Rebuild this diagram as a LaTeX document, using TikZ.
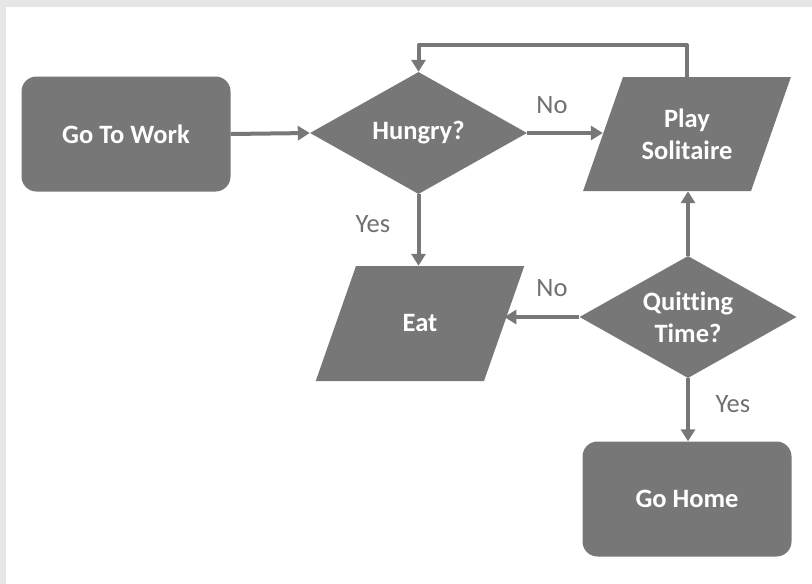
\documentclass[tikz,border=0pt]{standalone}
\usepackage{fontspec}
\setmainfont{Carlito}[Ligatures=NoCommon]
\usetikzlibrary{shapes.geometric,arrows.meta}
\definecolor{shapegray}{HTML}{777777}
\definecolor{labelgray}{HTML}{707070}
\definecolor{framegray}{HTML}{E6E6E6}
\newcommand{\iotext}[2]{\parbox[c][#1][c]{128pt}{\centering #2}}
\tikzset{
  nodefont/.style={font=\bfseries\fontsize{26.5}{32}\selectfont},
  base/.style={fill=shapegray, text=white, inner sep=0pt, align=center, nodefont},
  termbox/.style={base, rectangle, rounded corners=15pt, minimum width=209pt, minimum height=115pt},
  decide/.style={base, diamond, shape aspect=1.78, minimum width=217pt, minimum height=122pt},
  iobox/.style={fill=shapegray, text=white, inner sep=0pt, nodefont, trapezium,
    trapezium left angle=70.7, trapezium right angle=109.3},
  conn/.style={draw=shapegray, line width=4pt, line join=round,
    -{Triangle[width=14pt,length=12pt]}},
  lbl/.style={text=labelgray, inner sep=0pt, font=\fontsize{26.5}{32}\selectfont},
}
\begin{document}
\begin{tikzpicture}[x=1pt,y=-1pt]
\useasboundingbox (0,0) rectangle (812,584);
\fill[framegray] (0,0) rectangle (812,584);
\fill[white] (6,7) rectangle (812,584);

\node[termbox] (work) at (126,134) {Go To Work};
\node[decide] (hungry) at (418.5,133) {Hungry?};
\node[iobox] (play) at (687,134) {\iotext{114pt}{Play\\Solitaire}};
\node[iobox] (eat) at (420,323.5) {\iotext{115pt}{Eat}};
\node[decide] (quit) at (688,317) {Quitting\\Time?};
\node[termbox] (home) at (687,499) {Go Home};

\coordinate (loop) at (550,45);

\draw[conn] (work.east) -- (hungry.west);
\draw[conn] (hungry.east) -- (hungry.east -| play.west);
\draw[conn] (play.north) -- (play.north |- loop) -- (hungry.north |- loop) -- (hungry.north);
\draw[conn] (hungry.south) -- (hungry.south |- eat.north);
\draw[conn] (quit.west) -- (quit.west -| eat.east);
\draw[conn] (quit.north) -- (quit.north |- play.south);
\draw[conn] (quit.south) -- (quit.south |- home.north);

\node[lbl] (no1) at (552,105) {No};
\node[lbl] (yes1) at (373,224) {Yes};
\node[lbl] (no2) at (552,288) {No};
\node[lbl] (yes2) at (733,404) {Yes};
\end{tikzpicture}
\end{document}
